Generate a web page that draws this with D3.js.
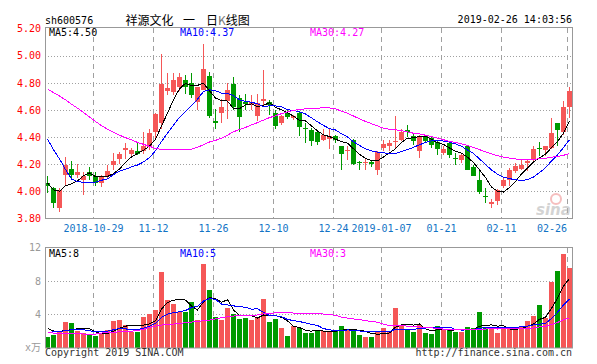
<!DOCTYPE html>
<html><head><meta charset="utf-8">
<script src="https://cdn.jsdelivr.net/npm/d3@7"></script>
<style>
html,body{margin:0;padding:0;background:#fff;}
svg{display:block;}
text{font-family:"DejaVu Sans Mono",monospace;font-size:10px;}
</style></head><body>
<svg id="c" width="597" height="364"></svg>
<script>
const dates = ["2018-10-17","2018-10-18","2018-10-19","2018-10-22","2018-10-23","2018-10-24","2018-10-25","2018-10-26",
"2018-10-29","2018-10-30","2018-10-31","2018-11-01","2018-11-02","2018-11-05","2018-11-06","2018-11-07","2018-11-08","2018-11-09",
"2018-11-12","2018-11-13","2018-11-14","2018-11-15","2018-11-16","2018-11-19","2018-11-20","2018-11-21","2018-11-22","2018-11-23",
"2018-11-26","2018-11-27","2018-11-28","2018-11-29","2018-11-30","2018-12-03","2018-12-04","2018-12-05","2018-12-06","2018-12-07",
"2018-12-10","2018-12-11","2018-12-12","2018-12-13","2018-12-14","2018-12-17","2018-12-18","2018-12-19","2018-12-20","2018-12-21",
"2018-12-24","2018-12-25","2018-12-26","2018-12-27","2018-12-28","2019-01-02","2019-01-03","2019-01-04",
"2019-01-07","2019-01-08","2019-01-09","2019-01-10","2019-01-11","2019-01-14","2019-01-15","2019-01-16","2019-01-17","2019-01-18",
"2019-01-21","2019-01-22","2019-01-23","2019-01-24","2019-01-25","2019-01-28","2019-01-29","2019-01-30","2019-01-31","2019-02-01",
"2019-02-11","2019-02-12","2019-02-13","2019-02-14","2019-02-15","2019-02-18","2019-02-19","2019-02-20","2019-02-21","2019-02-22",
"2019-02-25","2019-02-26"];

const opens = [4.06,4.025,3.877,4.123,4.167,4.123,4.08,4.142,4.11,4.061,
4.11,4.19,4.235,4.306,4.277,4.294,4.294,4.326,4.434,4.507,
4.743,4.735,4.767,4.82,4.797,4.66,4.75,4.85,4.52,4.58,
4.667,4.79,4.686,4.655,4.642,4.556,4.662,4.66,4.58,4.50,
4.576,4.54,4.58,4.47,4.449,4.434,4.38,4.387,4.41,4.33,
4.30,4.38,4.216,4.208,4.216,4.16,4.32,4.336,4.365,4.38,
4.45,4.41,4.30,4.404,4.39,4.36,4.282,4.355,4.248,4.233,
4.336,4.176,4.086,3.966,3.907,3.926,4.037,4.086,4.147,4.164,
4.208,4.228,4.32,4.306,4.319,4.502,4.44,4.625];
const highs = [4.11,4.03,4.025,4.25,4.225,4.20,4.14,4.18,4.14,4.12,
4.19,4.28,4.29,4.355,4.316,4.355,4.44,4.46,4.58,5.01,
4.87,4.87,4.87,4.86,4.87,4.77,5.09,4.88,4.61,4.68,
4.80,4.84,4.71,4.715,4.71,4.72,4.895,4.674,4.60,4.565,
4.60,4.565,4.595,4.507,4.466,4.45,4.458,4.466,4.417,4.336,
4.336,4.385,4.22,4.245,4.22,4.30,4.38,4.38,4.556,4.458,
4.49,4.42,4.417,4.417,4.404,4.368,4.33,4.368,4.282,4.282,
4.343,4.196,4.16,4.025,3.944,4.017,4.098,4.172,4.208,4.228,
4.233,4.33,4.363,4.336,4.54,4.507,4.667,4.772];
const lows = [3.99,3.877,3.846,4.037,4.086,4.10,3.97,4.086,4.04,4.03,
4.09,4.16,4.20,4.235,4.245,4.27,4.277,4.306,4.38,4.46,
4.71,4.71,4.74,4.72,4.686,4.60,4.745,4.54,4.46,4.50,
4.535,4.60,4.44,4.60,4.60,4.515,4.63,4.564,4.458,4.49,
4.53,4.527,4.404,4.355,4.33,4.343,4.37,4.31,4.355,4.16,
4.233,4.196,4.16,4.16,4.18,4.123,4.294,4.294,4.31,4.368,
4.40,4.34,4.245,4.355,4.32,4.27,4.27,4.245,4.19,4.208,
4.155,4.11,3.983,3.91,3.877,3.897,4.025,4.037,4.135,4.16,
4.147,4.208,4.257,4.257,4.311,4.33,4.417,4.54];
const closes = [4.04,3.914,4.012,4.19,4.118,4.14,4.11,4.11,4.061,4.11,
4.147,4.22,4.277,4.316,4.306,4.277,4.336,4.43,4.571,4.79,
4.76,4.82,4.84,4.77,4.71,4.767,4.90,4.556,4.50,4.62,
4.75,4.625,4.55,4.64,4.655,4.65,4.679,4.635,4.48,4.556,
4.545,4.556,4.473,4.466,4.368,4.363,4.412,4.404,4.375,4.277,
4.306,4.203,4.206,4.216,4.203,4.29,4.35,4.355,4.368,4.44,
4.44,4.368,4.404,4.368,4.338,4.31,4.311,4.27,4.245,4.27,
4.16,4.115,3.995,3.963,3.919,4.007,4.086,4.16,4.189,4.196,
4.22,4.314,4.311,4.33,4.429,4.449,4.625,4.74];

const ma5 = [4.06,4.01,4.00,4.04,4.055,4.075,4.114,4.134,4.108,4.106,
4.108,4.130,4.163,4.214,4.253,4.279,4.302,4.333,4.384,4.481,
4.577,4.674,4.756,4.796,4.780,4.781,4.797,4.741,4.687,4.669,
4.665,4.610,4.609,4.637,4.644,4.624,4.635,4.652,4.620,4.600,
4.579,4.554,4.522,4.519,4.482,4.445,4.416,4.403,4.384,4.366,
4.355,4.313,4.273,4.242,4.227,4.224,4.253,4.283,4.313,4.361,
4.391,4.394,4.404,4.404,4.384,4.358,4.346,4.319,4.295,4.281,
4.251,4.212,4.157,4.101,4.030,4.000,3.994,4.027,4.072,4.128,
4.170,4.216,4.246,4.274,4.321,4.367,4.429,4.515];
const ma10 = [4.385,4.306,4.238,4.16,4.09,4.07,4.066,4.066,4.066,4.081,
4.091,4.122,4.148,4.161,4.180,4.193,4.216,4.248,4.299,4.367,
4.428,4.488,4.545,4.590,4.630,4.679,4.736,4.748,4.741,4.724,
4.723,4.704,4.675,4.662,4.657,4.645,4.623,4.631,4.629,4.623,
4.602,4.595,4.587,4.570,4.541,4.512,4.485,4.462,4.452,4.424,
4.400,4.365,4.338,4.313,4.297,4.289,4.283,4.278,4.277,4.294,
4.307,4.324,4.343,4.359,4.372,4.374,4.370,4.362,4.349,4.332,
4.304,4.279,4.238,4.198,4.156,4.126,4.103,4.092,4.086,4.079,
4.085,4.105,4.137,4.173,4.224,4.268,4.322,4.380];
const ma30 = [4.755,4.728,4.703,4.674,4.642,4.613,4.581,4.547,4.515,4.483,
4.458,4.434,4.414,4.395,4.380,4.360,4.346,4.331,4.316,4.309,
4.306,4.306,4.306,4.306,4.311,4.324,4.343,4.363,4.375,4.391,
4.414,4.438,4.456,4.471,4.489,4.506,4.525,4.543,4.557,4.572,
4.585,4.596,4.603,4.608,4.610,4.613,4.615,4.614,4.608,4.591,
4.575,4.555,4.534,4.515,4.498,4.482,4.464,4.457,4.453,4.447,
4.437,4.428,4.423,4.413,4.403,4.392,4.380,4.367,4.360,4.350,
4.337,4.322,4.307,4.290,4.275,4.263,4.252,4.244,4.238,4.235,
4.232,4.236,4.239,4.243,4.251,4.256,4.265,4.278];

const volumes = [1.32,1.52,1.84,3.12,2.92,2.0,1.72,1.6,1.4,1.6,
2.12,3.2,3.32,2.72,1.92,1.92,3.72,4.0,4.52,9.12,
5.68,5.24,4.24,4.32,5.52,3.32,10.04,6.92,3.68,3.32,
4.8,4.0,3.44,3.52,3.32,3.52,5.84,3.12,3.44,2.32,
1.4,2.6,2.32,1.8,1.8,2.04,2.0,1.92,2.0,2.6,
2.24,2.12,1.52,1.32,1.32,1.84,2.32,2.04,4.8,2.72,
2.12,1.92,2.72,1.8,1.68,2.6,2.24,2.2,1.92,1.92,
2.44,2.32,4.24,2.5,2.2,1.72,2.52,2.3,2.32,2.52,
3.2,3.84,5.12,3.52,7.92,9.2,11.24,9.6];
const vma5 = [2.3,2.0,1.95,2.1,2.144,2.28,2.32,2.272,1.928,1.664,
1.688,1.984,2.328,2.592,2.656,2.616,2.72,2.856,3.216,4.656,
5.408,5.712,5.76,5.72,5.0,4.528,5.488,6.024,5.896,5.456,
5.752,4.544,3.848,3.816,3.816,3.56,3.928,3.864,3.848,3.648,
3.224,2.576,2.416,2.088,1.984,2.112,1.992,1.912,1.952,2.112,
2.152,2.176,2.096,1.96,1.704,1.624,1.664,1.768,2.464,2.744,
2.8,2.72,2.856,2.256,2.048,2.144,2.208,2.104,2.128,2.176,
2.144,2.16,2.568,2.684,2.74,2.596,2.636,2.248,2.212,2.276,
2.572,2.836,3.4,3.64,4.72,5.92,7.4,8.296];
const vma10 = [1.84,1.9,1.96,2.04,2.16,2.24,2.16,2.04,1.92,1.904,
1.984,2.152,2.3,2.26,2.16,2.152,2.352,2.592,2.904,3.656,
4.012,4.216,4.308,4.468,4.828,4.968,5.6,5.892,5.808,5.228,
5.14,5.016,4.936,4.856,4.636,4.656,4.236,3.856,3.832,3.732,
3.392,3.252,3.14,2.968,2.816,2.668,2.284,2.164,2.02,2.048,
2.132,2.084,2.004,1.956,1.908,1.888,1.92,1.932,2.212,2.224,
2.212,2.192,2.312,2.36,2.396,2.472,2.464,2.48,2.192,2.112,
2.144,2.184,2.336,2.406,2.458,2.37,2.398,2.408,2.448,2.508,
2.584,2.736,2.824,2.926,3.498,4.246,5.118,5.848];
const vma30 = [1.8,1.76,1.72,1.72,1.72,1.68,1.64,1.64,1.64,1.76,
1.84,1.86,1.9,1.94,1.98,2.08,2.2,2.4,2.6,2.72,
2.78,2.84,2.92,3.0,3.08,3.16,3.24,3.32,3.45,3.596,
3.712,3.795,3.848,3.861,3.875,3.925,4.063,4.113,4.181,4.205,
4.181,4.161,4.128,4.097,4.093,4.097,4.04,3.971,3.887,3.669,
3.555,3.451,3.36,3.26,3.12,3.071,2.813,2.651,2.688,2.668,
2.579,2.509,2.485,2.428,2.373,2.343,2.223,2.192,2.141,2.128,
2.163,2.153,2.217,2.241,2.254,2.243,2.261,2.273,2.284,2.281,
2.313,2.371,2.491,2.564,2.784,3.029,3.327,3.579];

const tickDates = ["2018-10-29","2018-11-12","2018-11-26","2018-12-10","2018-12-24","2019-01-07","2019-01-21","2019-02-11","2019-02-26"];
const tickLabels = ["2018-10-29","11-12","11-26","12-10","12-24","2019-01-07","01-21","02-11","02-26"];
const priceTicks = [5.2,5.0,4.8,4.6,4.4,4.2,4.0,3.8];
const priceGrid = [5.0,4.8,4.6,4.4,4.2,4.0];
const volTicks = [12,8,4];
const volGrid = [8,4];
const priceLegend = ["MA5:4.50","MA10:4.37","MA30:4.27"];
const volLegend = ["MA5:8","MA10:5","MA30:3"];
const lineColors = ["#000000","#0000ff","#ff00ff"];

const RED = "#f55757", GREEN = "#009a00", GRID = "#a0a0a0", FRAME = "#999999";
const svg = d3.select("#c");
svg.append("rect").attr("width",597).attr("height",364).attr("fill","#fff");

const L = 45, R = 572;
const x = d3.scaleBand().domain(dates).range([45,573]).paddingInner(1/6).paddingOuter(1/12).align(0);
const bw = x.bandwidth();
const yP = d3.scaleLinear().domain([3.8,5.2]).range([218.3,28.6]);
const yV = d3.scaleLinear().domain([0,12]).range([347.7,247.7]);
const px = v => Math.round(v) + 0.5;

// gridlines
const g = svg.append("g");
priceGrid.forEach(v => g.append("line").attr("x1",L).attr("x2",R).attr("y1",px(yP(v))).attr("y2",px(yP(v)))
  .attr("stroke",GRID).attr("stroke-dasharray","1,2"));
volGrid.forEach(v => g.append("line").attr("x1",L).attr("x2",R).attr("y1",px(yV(v))).attr("y2",px(yV(v)))
  .attr("stroke",GRID).attr("stroke-dasharray","1,2"));
tickDates.forEach(d => {
  const xx = x(d) + 0.5;
  g.append("line").attr("x1",xx).attr("x2",xx).attr("y1",28).attr("y2",218).attr("stroke",GRID).attr("stroke-dasharray","5,4");
  g.append("line").attr("x1",xx).attr("x2",xx).attr("y1",248).attr("y2",348).attr("stroke",GRID).attr("stroke-dasharray","5,4");
});

// watermark
const wm = svg.append("g").attr("opacity",0.55);
wm.append("circle").attr("cx",556).attr("cy",199).attr("r",5).attr("fill","none").attr("stroke","#f08a8a").attr("stroke-width",2);
wm.append("text").attr("x",536).attr("y",215).attr("fill","#b0b0b0")
  .style("font-family","DejaVu Sans").style("font-size","15px").style("font-weight","bold").style("font-style","italic").text("sina");

// candles
const data = dates.map((d,i)=>({d, o:opens[i], h:highs[i], l:lows[i], c:closes[i], v:volumes[i]}));
const cg = svg.append("g").attr("shape-rendering","crispEdges");
cg.selectAll(".wick").data(data).join("rect")
  .attr("x", d => x(d.d) + 2).attr("width",1)
  .attr("y", d => yP(d.h)).attr("height", d => Math.max(1, yP(d.l) - yP(d.h)))
  .attr("fill", d => d.c >= d.o ? RED : GREEN);
cg.selectAll(".body").data(data).join("rect")
  .attr("x", d => x(d.d)).attr("width", bw)
  .attr("y", d => yP(Math.max(d.o,d.c))).attr("height", d => Math.max(1, Math.abs(yP(d.o) - yP(d.c))))
  .attr("fill", d => d.c >= d.o ? RED : GREEN);

// volume bars
cg.selectAll(".vol").data(data).join("rect")
  .attr("x", d => x(d.d)).attr("width", bw)
  .attr("y", d => yV(d.v)).attr("height", d => yV(0) - yV(d.v))
  .attr("fill", d => d.c >= d.o ? RED : GREEN);

// MA lines
const lineP = d3.line().x((v,i) => x(dates[i]) + 2.5).y(v => yP(v));
const lineV = d3.line().x((v,i) => x(dates[i]) + 2.5).y(v => yV(v));
[ma5, ma10, ma30].forEach((arr,k) => svg.append("path").attr("d", lineP(arr)).attr("fill","none")
  .attr("stroke", lineColors[k]).attr("stroke-width",1).attr("shape-rendering","crispEdges"));
[vma5, vma10, vma30].forEach((arr,k) => svg.append("path").attr("d", lineV(arr)).attr("fill","none")
  .attr("stroke", lineColors[k]).attr("stroke-width",1).attr("shape-rendering","crispEdges"));

// frames
svg.append("rect").attr("x",45.5).attr("y",27.5).attr("width",527).attr("height",191).attr("fill","none").attr("stroke",FRAME);
svg.append("rect").attr("x",45.5).attr("y",247.5).attr("width",527).attr("height",100.5).attr("fill","none").attr("stroke",FRAME);

// axes
const ap = svg.append("g").attr("transform","translate(45,0)")
  .call(d3.axisLeft(yP).tickValues(priceTicks).tickSize(0).tickPadding(4).tickFormat(d3.format(".2f")));
ap.select(".domain").remove();
ap.selectAll("text").attr("fill","#ff0000").style("font-family","DejaVu Sans Mono").style("font-size","10px");
const av = svg.append("g").attr("transform","translate(45,0)")
  .call(d3.axisLeft(yV).tickValues(volTicks).tickSize(0).tickPadding(4).tickFormat(d3.format("d")));
av.select(".domain").remove();
av.selectAll("text").attr("fill","#999").style("font-family","DejaVu Sans Mono").style("font-size","10px");

// date labels
tickDates.forEach((d,k) => {
  let cx = x(d) + 0.5;
  const half = tickLabels[k].length * 3;
  if (cx + half > R - 5) cx = R - 5 - half;
  svg.append("text").attr("x",cx).attr("y",231.5).attr("text-anchor","middle").attr("fill","#1273c5").text(tickLabels[k]);
});

// header texts
svg.append("text").attr("x",45).attr("y",23.5).attr("fill","#000").text("sh600576");
const t = svg.append("text").attr("y",24.5).attr("fill","#000")
  .style("font-family","'Noto Sans CJK SC'").style("font-size","12px");
t.append("tspan").attr("x",125.5).text("祥源文化 ");
t.append("tspan").attr("x",183).text("一 ");
t.append("tspan").attr("x",206).text("日");
t.append("tspan").attr("fill","#777").text("K");
t.append("tspan").text("线图");
svg.append("text").attr("x",572).attr("y",23).attr("text-anchor","end").attr("fill","#000").text("2019-02-26 14:03:56");

// legends
const legX = [49,180,310];
priceLegend.forEach((s,k) => svg.append("text").attr("x",legX[k]).attr("y",36).attr("fill",lineColors[k]).text(s));
volLegend.forEach((s,k) => svg.append("text").attr("x",legX[k]).attr("y",257).attr("fill",lineColors[k]).text(s));

// footer
svg.append("text").attr("x",41).attr("y",351).attr("text-anchor","end").attr("fill","#999")
  .style("font-family","'DejaVu Sans Mono','Noto Sans CJK SC'").text("x万");
svg.append("text").attr("x",45).attr("y",356).attr("fill","#333").text("Copyright 2019 SINA.COM");
svg.append("text").attr("x",572).attr("y",356).attr("text-anchor","end").attr("fill","#333").text("http://finance.sina.com.cn");
</script>
</body></html>
